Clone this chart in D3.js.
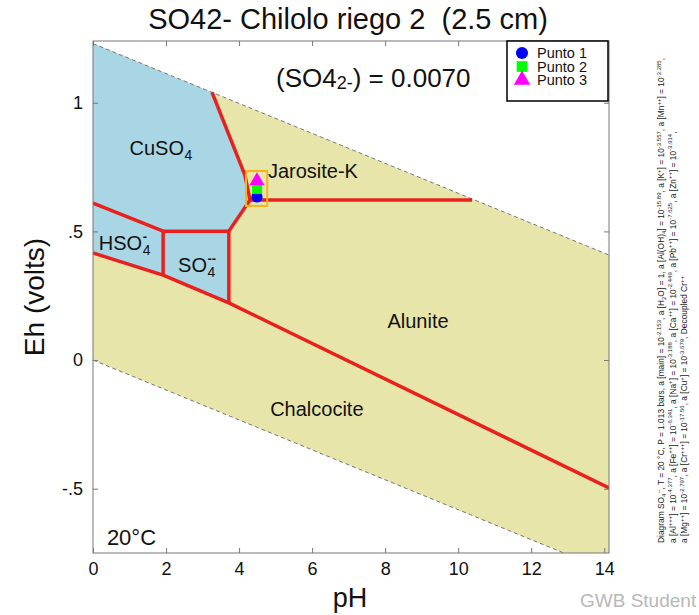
<!DOCTYPE html>
<html>
<head>
<meta charset="utf-8">
<script src="https://cdn.jsdelivr.net/npm/d3@7"></script>
<style>
  body { margin: 0; background: #fff; }
  svg text { font-family: "Liberation Sans", Arial, sans-serif; }
</style>
</head>
<body>
<svg id="chart" width="699" height="615"></svg>
<script>
// ---- axis setup ----
const phTicks = [0, 2, 4, 6, 8, 10, 12, 14];
const ehTicks = [-0.5, 0, 0.5, 1];
const ehTickLabels = ["-.5", "0", ".5", "1"];
const phDomain = [0, 14.13];
const ehDomain = [-0.75, 1.24];

// ---- water stability limits (dashed) ----
const waterUpper = [[0, 1.23], [14.13, 0.408]];
const waterLower = [[0, 0], [14.13, -0.822]];

// ---- aqueous field (CuSO4 / HSO4- / SO4--), shaded blue ----
const aqueousField = [[0, 0.416], [0, 1.23], [3.26, 1.040], [4.16, 0.719], [4.30, 0.622],
                      [3.72, 0.501], [3.72, 0.222], [1.92, 0.330], [0, 0.416]];

// ---- predominance boundaries (red) ----
const boundaries = [
  [[0, 0.610], [1.92, 0.501]],
  [[1.92, 0.501], [1.92, 0.330]],
  [[0, 0.416], [1.92, 0.330], [3.72, 0.222], [14.13, -0.497]],
  [[1.92, 0.501], [3.72, 0.501]],
  [[3.72, 0.501], [3.72, 0.222]],
  [[3.72, 0.501], [4.30, 0.622]],
  [[4.30, 0.622], [10.38, 0.622]],
  [[3.26, 1.040], [4.16, 0.719], [4.30, 0.622]]
];

// ---- measured samples ----
const sampleNames = ["Punto 1", "Punto 2", "Punto 3"];
const samplePH = [4.49, 4.49, 4.49];
const sampleEh = [0.634, 0.665, 0.696];
const sampleColors = ["#0000ff", "#00ff00", "#ff00ff"];
const sampleShapes = [d3.symbolCircle, d3.symbolSquare, d3.symbolTriangle];
const sampleBox = { pH: [4.19, 4.77], Eh: [0.599, 0.735] };

// ---- field labels ----
const fieldLabels = [
  { base: "CuSO", sub: "4", sup: "", pH: 1.0, Eh: 0.795, anchor: "start", size: 20 },
  { base: "Jarosite-K", sub: "", sup: "", pH: 4.79, Eh: 0.707, anchor: "start", size: 20 },
  { base: "HSO", sub: "4", sup: "-", pH: 0.16, Eh: 0.426, anchor: "start", size: 20 },
  { base: "SO", sub: "4", sup: "--", pH: 2.33, Eh: 0.342, anchor: "start", size: 20 },
  { base: "Alunite", sub: "", sup: "", pH: 8.9, Eh: 0.124, anchor: "middle", size: 20 },
  { base: "Chalcocite", sub: "", sup: "", pH: 6.13, Eh: -0.218, anchor: "middle", size: 20 },
  { base: "20°C", sub: "", sup: "", pH: 0.38, Eh: -0.72, anchor: "start", size: 22 }
];

const footnoteLines = [
  "Diagram SO_{4}^{--}, T = 20 °C, P = 1.013 bars, a [main] = 10^{-2.153}, a [H_{2}O] = 1, a [Al(OH)_{4}] = 10^{-15.89}, a [K^{+}] = 10^{-3.557}, a [Mn^{++}] = 10^{-3.285},",
  "a [Al^{+++}] = 10^{-4.377}, a [Fe^{++}] = 10^{-6.341}, a [Na^{+}] = 10^{-3.188}, a [Ca^{++}] = 10^{-2.449}, a [Pb^{++}] = 10^{-7.625}, a [Zn^{++}] = 10^{-3.914},",
  "a [Mg^{++}] = 10^{-2.797}, a [Cr^{+++}] = 10^{-17.56}, a [Cu^{+}] = 10^{-3.679}, Decoupled Cr^{++}"
];

// ---- drawing ----
const svg = d3.select("#chart");
const frame = { left: 93, right: 609, top: 41, bottom: 553 };

const x = d3.scaleLinear().domain(phDomain).range([frame.left, frame.right]);
const y = d3.scaleLinear().domain(ehDomain).range([frame.bottom, frame.top]);

svg.append("defs").append("clipPath").attr("id", "plotClip")
  .append("rect")
  .attr("x", frame.left).attr("y", frame.top)
  .attr("width", frame.right - frame.left).attr("height", frame.bottom - frame.top);

const plot = svg.append("g").attr("clip-path", "url(#plotClip)");
const line = d3.line().x(d => x(d[0])).y(d => y(d[1]));

// stable-water band (yellow)
const band = waterUpper.concat(waterLower.slice().reverse());
plot.append("path").attr("d", line(band) + "Z").attr("fill", "#e8e5aa");

// aqueous field (blue)
plot.append("path").attr("d", line(aqueousField) + "Z").attr("fill", "#a9d6e5");

// water limits
[waterUpper, waterLower].forEach(w => {
  plot.append("path").attr("d", line(w)).attr("fill", "none")
    .attr("stroke", "#777").attr("stroke-width", 1).attr("stroke-dasharray", "4,3");
});

// boundaries
boundaries.forEach(b => {
  plot.append("path").attr("d", line(b)).attr("fill", "none")
    .attr("stroke", "#e8201e").attr("stroke-width", 3.5)
    .attr("stroke-linejoin", "round").attr("stroke-linecap", "butt");
});

// field labels
fieldLabels.forEach(l => {
  const t = svg.append("text")
    .attr("x", x(l.pH)).attr("y", y(l.Eh))
    .attr("font-size", l.size).attr("fill", "#111")
    .attr("text-anchor", l.anchor)
    .text(l.base);
  if (l.sub || l.sup) {
    const w = t.node().getComputedTextLength();
    const sx = x(l.pH) + w + 0.5;
    if (l.sub) svg.append("text").attr("x", sx).attr("y", y(l.Eh) + 5)
      .attr("font-size", 14).attr("fill", "#111").text(l.sub);
    if (l.sup) svg.append("text").attr("x", sx).attr("y", y(l.Eh) - 9)
      .attr("font-size", 13).attr("font-weight", "bold").attr("fill", "#111").text(l.sup);
  }
});

// sample highlight box
svg.append("rect")
  .attr("x", x(sampleBox.pH[0])).attr("y", y(sampleBox.Eh[1]))
  .attr("width", x(sampleBox.pH[1]) - x(sampleBox.pH[0]))
  .attr("height", y(sampleBox.Eh[0]) - y(sampleBox.Eh[1]))
  .attr("fill", "none").attr("stroke", "#f5b51a").attr("stroke-width", 2);

// sample markers
sampleNames.forEach((n, i) => {
  svg.append("path")
    .attr("d", d3.symbol().type(sampleShapes[i]).size(100)())
    .attr("transform", `translate(${x(samplePH[i])},${y(sampleEh[i])})`)
    .attr("fill", sampleColors[i]);
});

// axes (ticks inside on all four sides)
const axisColor = "#777";
function styleAxis(g, showText) {
  g.select(".domain").remove();
  g.selectAll(".tick line").attr("stroke", axisColor);
  g.selectAll(".tick text").attr("fill", "#111").attr("font-size", 18)
    .attr("font-family", "Liberation Sans, Arial, sans-serif")
    .style("display", showText ? null : "none");
}
svg.append("g").attr("transform", `translate(0,${frame.bottom})`)
  .call(d3.axisBottom(x).tickValues(phTicks).tickSize(-5).tickPadding(9).tickFormat(d3.format("d")))
  .call(g => styleAxis(g, true));
svg.append("g").attr("transform", `translate(0,${frame.top})`)
  .call(d3.axisTop(x).tickValues(phTicks).tickSize(-5))
  .call(g => styleAxis(g, false));
svg.append("g").attr("transform", `translate(${frame.left},0)`)
  .call(d3.axisLeft(y).tickValues(ehTicks).tickSize(-5).tickPadding(10)
    .tickFormat((d, i) => ehTickLabels[i]))
  .call(g => styleAxis(g, true));
svg.append("g").attr("transform", `translate(${frame.right},0)`)
  .call(d3.axisRight(y).tickValues(ehTicks).tickSize(-5))
  .call(g => styleAxis(g, false));

// frame
svg.append("rect")
  .attr("x", frame.left).attr("y", frame.top)
  .attr("width", frame.right - frame.left).attr("height", frame.bottom - frame.top)
  .attr("fill", "none").attr("stroke", axisColor).attr("stroke-width", 1);

// legend
const legend = svg.append("g");
legend.append("rect").attr("x", 507).attr("y", 41).attr("width", 101).attr("height", 60)
  .attr("fill", "#fff").attr("stroke", "#000").attr("stroke-width", 1.5);
sampleNames.forEach((n, i) => {
  const cy = 53 + i * 13.5;
  legend.append("path")
    .attr("d", d3.symbol().type(sampleShapes[i]).size(115)())
    .attr("transform", `translate(522,${cy})`)
    .attr("fill", sampleColors[i]);
  legend.append("text").attr("x", 537).attr("y", cy + 5)
    .attr("font-size", 14.5).attr("fill", "#111").text(n);
});

// titles
svg.append("text").attr("x", 348).attr("y", 29).attr("text-anchor", "middle")
  .attr("font-size", 29).attr("fill", "#111").style("white-space", "pre")
  .text("SO42- Chilolo riego 2  (2.5 cm)");

const conc = svg.append("text").attr("x", 276).attr("y", 87)
  .attr("font-size", 26).attr("fill", "#111");
conc.append("tspan").text("(SO4");
conc.append("tspan").attr("font-size", 18).attr("dy", 2).text("2-");
conc.append("tspan").attr("dy", -2).text(") = 0.0070");

svg.append("text").attr("x", 350).attr("y", 607).attr("text-anchor", "middle")
  .attr("font-size", 27).attr("fill", "#111").text("pH");

svg.append("text")
  .attr("transform", `translate(44,${(frame.top + frame.bottom) / 2}) rotate(-90)`)
  .attr("text-anchor", "middle").attr("font-size", 28).attr("fill", "#111")
  .text("Eh (volts)");

svg.append("text").attr("x", 580).attr("y", 607)
  .attr("font-size", 19).attr("fill", "#b8b8b8").text("GWB Student");

// rotated footnote with sub/superscripts
const footSize = 8.4, footSmall = 6;
const foot = svg.append("g").attr("transform", "translate(664,543) rotate(-90)");
footnoteLines.forEach((ln, li) => {
  const t = foot.append("text").attr("x", 0).attr("y", li * 11.5)
    .attr("font-size", footSize).attr("fill", "#222");
  const re = /(\^\{[^}]*\}|_\{[^}]*\})/;
  let shift = 0;
  ln.split(re).forEach(part => {
    if (!part) return;
    let target = 0, txt = part, fs = footSize;
    if (part.startsWith("^{")) { target = -3.5; txt = part.slice(2, -1); fs = footSmall; }
    else if (part.startsWith("_{")) { target = 2; txt = part.slice(2, -1); fs = footSmall; }
    t.append("tspan").attr("dy", target - shift).attr("font-size", fs).text(txt);
    shift = target;
  });
});
</script>
</body>
</html>
